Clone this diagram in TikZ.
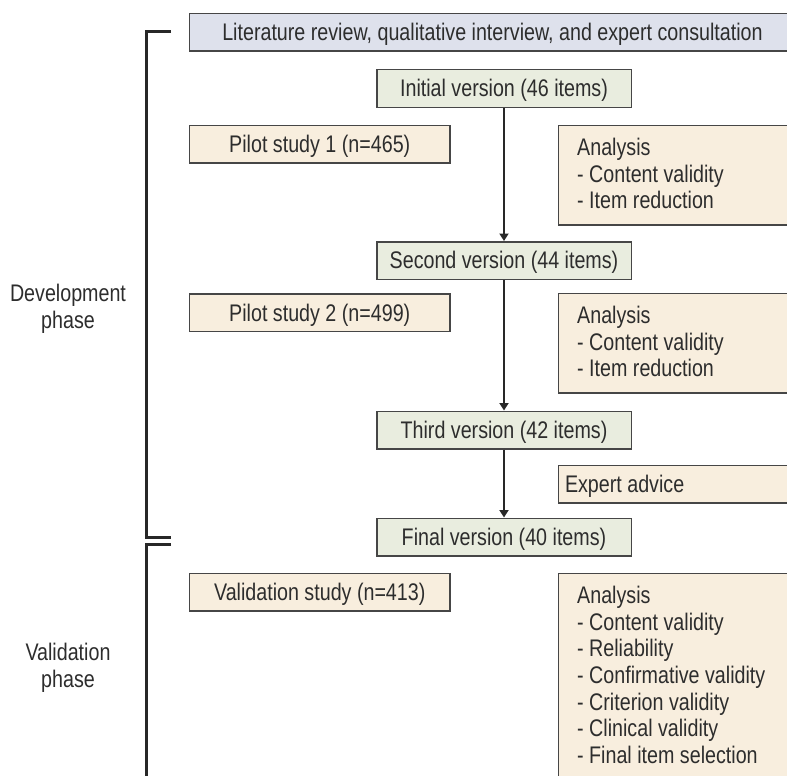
\documentclass[tikz,border=0pt]{standalone}
\usepackage{fontspec}
\setmainfont[FakeStretch=0.82]{Liberation Sans}
\usetikzlibrary{arrows.meta}
\definecolor{topfill}{RGB}{222,225,236}
\definecolor{verfill}{RGB}{233,237,223}
\definecolor{begfill}{RGB}{248,238,222}
\definecolor{edge}{RGB}{70,70,70}
\definecolor{ink}{RGB}{45,45,45}
\definecolor{brk}{RGB}{40,40,40}
\tikzset{
  basebox/.style={draw=edge, line width=1.5pt, inner sep=0pt, text=ink,
    font=\fontsize{24}{26.7}\selectfont, text height=16.5pt, text depth=0pt,
    minimum height=37.5pt},
  topbox/.style={basebox, fill=topfill, anchor=north west, minimum width=606pt},
  verbox/.style={basebox, fill=verfill, minimum width=254.5pt},
  studybox/.style={basebox, fill=begfill, anchor=north west, minimum width=260.5pt},
  anabox/.style={draw=edge, line width=1.5pt, fill=begfill, inner sep=0pt,
    anchor=north west, minimum width=260pt},
  anatext/.style={inner sep=0pt, anchor=north west, align=left, text=ink,
    font=\fontsize{24}{26.7}\selectfont},
  flow/.style={draw=brk, line width=2.2pt, -{Triangle[width=9pt,length=7.5pt]}},
  bracket/.style={draw=brk, line width=3pt},
  phase/.style={align=center, text=ink, inner sep=0pt,
    font=\fontsize{24}{26.7}\selectfont}
}
\begin{document}
\begin{tikzpicture}[x=1pt,y=-1pt]
\useasboundingbox (0,0) rectangle (787,776);
\clip (0,0) rectangle (787,776);
% boxes
\node[topbox] (lit) at (188.75,12.75) {Literature review, qualitative interview, and expert consultation};
\node[verbox] (v1) at (504,88.5) {Initial version (46 items)};
\node[studybox] (p1) at (188.75,124.75) {Pilot study 1 (n=465)};
\node[anabox, minimum height=99.5pt] (a1) at (557.75,124.75) {};
\node[anatext] (a1t) at (577,137.8) {Analysis\\- Content validity\\- Item reduction};
\node[verbox] (v2) at (504,260.5) {Second version (44 items)};
\node[studybox] (p2) at (188.75,293.25) {Pilot study 2 (n=499)};
\node[anabox, minimum height=99.5pt] (a2) at (557.75,292.75) {};
\node[anatext] (a2t) at (577,305.8) {Analysis\\- Content validity\\- Item reduction};
\node[verbox] (v3) at (504,430) {Third version (42 items)};
\node[anabox, minimum height=37.5pt, text height=16.5pt, text depth=0pt,
  text=ink, font=\fontsize{24}{26.7}\selectfont, inner xsep=6.5pt] (ex) at (557.75,464.75) {Expert advice\hspace*{150pt}};
\node[verbox] (v4) at (504,537) {Final version (40 items)};
\node[studybox] (vs) at (188.75,572.75) {Validation study (n=413)};
\node[anabox, minimum height=230pt] (a3) at (557.75,572.75) {};
\node[anatext] (a3t) at (577,585.8) {Analysis\\- Content validity\\- Reliability\\- Confirmative validity\\- Criterion validity\\- Clinical validity\\- Final item selection};
% flow arrows
\draw[flow] (v1.south) -- (v2.north);
\draw[flow] (v2.south) -- (v3.north);
\draw[flow] (v3.south) -- (v4.north);
% brackets
\coordinate (d1) at (171,32);
\coordinate (d2) at (146.5,32);
\coordinate (d3) at (146.5,537);
\coordinate (d4) at (171,537);
\draw[bracket] (d1) -- (d2) -- (d3) -- (d4);
\coordinate (w1) at (171,544.5);
\coordinate (w2) at (146.5,544.5);
\coordinate (w3) at (146.5,790);
\draw[bracket] (w1) -- (w2) -- (w3);
% phase labels
\node[phase] (dev) at (68,309) {Development\\phase};
\node[phase] (val) at (68,668) {Validation\\phase};
\end{tikzpicture}
\end{document}
